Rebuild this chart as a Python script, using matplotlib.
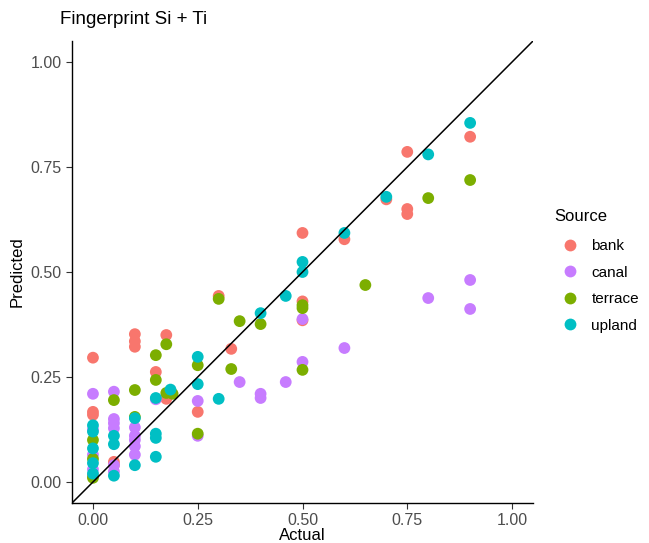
import numpy as np
import matplotlib.pyplot as plt
from matplotlib.lines import Line2D

plt.rcParams['font.family'] = ['Liberation Sans', 'DejaVu Sans']

# data (Actual, Predicted) per source
bank_x = [0, 0, 0, 0, 0.05, 0.05, 0.1, 0.1, 0.1, 0.15, 0.175, 0.175, 0.25, 0.3,
          0.33, 0.5, 0.5, 0.5, 0.6, 0.7, 0.75, 0.75, 0.75, 0.9]
bank_y = [0.296, 0.167, 0.16, 0.015, 0.048, 0.04, 0.352, 0.335, 0.322, 0.262, 0.35, 0.198,
          0.167, 0.443, 0.317, 0.593, 0.43, 0.385, 0.578, 0.673, 0.786, 0.65, 0.638, 0.822]

canal_x = [0, 0, 0, 0, 0.05, 0.05, 0.05, 0.05, 0.05, 0.05, 0.1, 0.1, 0.1, 0.1, 0.1,
           0.15, 0.25, 0.25, 0.35, 0.4, 0.4, 0.46, 0.5, 0.5, 0.6, 0.8, 0.9, 0.9]
canal_y = [0.21, 0.125, 0.065, 0.03, 0.215, 0.15, 0.14, 0.128, 0.04, 0.025, 0.13, 0.11, 0.1,
           0.085, 0.065, 0.197, 0.193, 0.11, 0.238, 0.21, 0.2, 0.238, 0.388, 0.286, 0.319,
           0.438, 0.481, 0.412]

terrace_x = [0, 0, 0, 0.05, 0.1, 0.1, 0.15, 0.15, 0.175, 0.175, 0.19, 0.25, 0.25, 0.3,
             0.33, 0.35, 0.4, 0.5, 0.5, 0.5, 0.65, 0.8, 0.9]
terrace_y = [0.1, 0.055, 0.01, 0.195, 0.219, 0.155, 0.302, 0.243, 0.328, 0.212, 0.21, 0.278,
             0.115, 0.436, 0.269, 0.383, 0.376, 0.421, 0.414, 0.267, 0.469, 0.676, 0.719]

upland_x = [0, 0, 0, 0, 0, 0.05, 0.05, 0.05, 0.1, 0.1, 0.15, 0.15, 0.15, 0.15, 0.185,
            0.25, 0.25, 0.3, 0.4, 0.46, 0.5, 0.5, 0.6, 0.7, 0.8, 0.9]
upland_y = [0.135, 0.12, 0.08, 0.045, 0.02, 0.11, 0.09, 0.015, 0.152, 0.04, 0.2, 0.115,
            0.105, 0.06, 0.22, 0.298, 0.233, 0.198, 0.402, 0.443, 0.524, 0.5, 0.593, 0.679,
            0.78, 0.855]

sources = ['bank', 'canal', 'terrace', 'upland']
colors = ['#F8766D', '#C77CFF', '#7CAE00', '#00BFC4']
ticks = [0, 0.25, 0.5, 0.75, 1.0]
tick_labels = ['0.00', '0.25', '0.50', '0.75', '1.00']

fig = plt.figure(figsize=(6.49, 5.43), dpi=100)
ax = fig.add_axes([72 / 649, 40 / 543, 461 / 649, 462 / 543])

series = [(bank_x, bank_y), (canal_x, canal_y), (terrace_x, terrace_y), (upland_x, upland_y)]
for (xs, ys), c in zip(series, colors):
    ax.scatter(xs, ys, s=72, color=c, edgecolors='none', zorder=2)

ax.plot([-0.1, 1.1], [-0.1, 1.1], color='black', lw=1.1, zorder=3)

ax.set_xlim(-0.05, 1.05)
ax.set_ylim(-0.05, 1.05)
ax.set_xticks(ticks)
ax.set_xticklabels(tick_labels)
ax.set_yticks(ticks)
ax.set_yticklabels(tick_labels)
ax.tick_params(colors='#333333', labelcolor='#4D4D4D', labelsize=11.5, length=4, width=0.8)
for side in ['top', 'right']:
    ax.spines[side].set_visible(False)
for side in ['left', 'bottom']:
    ax.spines[side].set_linewidth(1.0)

ax.set_xlabel('Actual', fontsize=12, labelpad=0)
ax.set_ylabel('Predicted', fontsize=12, labelpad=4)
fig.text(60 / 649, 1 - 20 / 543, 'Fingerprint Si + Ti', fontsize=13.5, va='center', ha='left')

handles = [Line2D([], [], marker='o', linestyle='none', markersize=8.5, color=c,
                  markeredgewidth=0) for c in colors]
leg = fig.legend(handles, sources, title='Source', loc='upper left',
                 bbox_to_anchor=(541 / 649, 1 - 195 / 543), frameon=False,
                 fontsize=11, title_fontsize=12, labelspacing=0.82, handletextpad=0.4)
leg._legend_box.align = 'left'
leg._legend_box.sep = 11

fig.savefig('out.png', dpi=100)
